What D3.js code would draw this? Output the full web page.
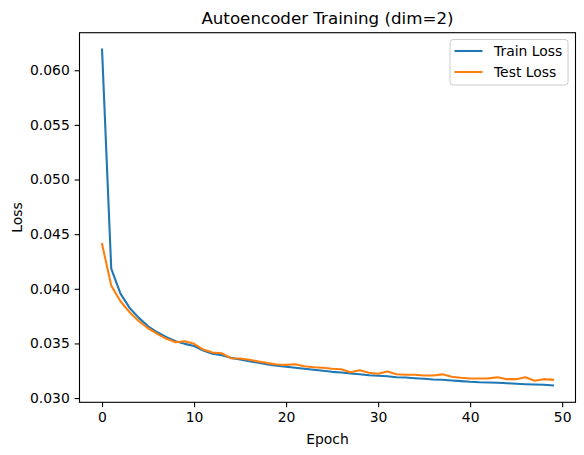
<!DOCTYPE html>
<html>
<head>
<meta charset="utf-8">
<script src="https://cdn.jsdelivr.net/npm/d3@7"></script>
<style>
  html, body { margin: 0; padding: 0; background: #fff; }
  svg { display: block; font-family: "DejaVu Sans", sans-serif; }
</style>
</head>
<body>
<svg id="chart" width="584" height="455"></svg>
<script>
const epochs = d3.range(0, 50);
const trainLoss = [
  0.0619, 0.04185, 0.03956, 0.03825, 0.03734, 0.03657, 0.03602, 0.03557, 0.03520, 0.03496,
  0.03476, 0.03435, 0.03405, 0.03392, 0.03368, 0.03353, 0.03337, 0.03323, 0.03307, 0.03295,
  0.03286, 0.03277, 0.03268, 0.03259, 0.03250, 0.03240, 0.03234, 0.03225, 0.03218, 0.03209,
  0.03204, 0.03200, 0.03191, 0.03188, 0.03182, 0.03176, 0.03170, 0.03167, 0.03161, 0.03155,
  0.03149, 0.03145, 0.03143, 0.03140, 0.03136, 0.03131, 0.03127, 0.03124, 0.03122, 0.03115
];
const testLoss = [
  0.04410, 0.04029, 0.03886, 0.03785, 0.03703, 0.03639, 0.03588, 0.03542, 0.03511, 0.03520,
  0.03496, 0.03444, 0.03417, 0.03410, 0.03365, 0.03362, 0.03350, 0.03335, 0.03320, 0.03307,
  0.03304, 0.03310, 0.03292, 0.03282, 0.03277, 0.03268, 0.03264, 0.03237, 0.03255, 0.03231,
  0.03222, 0.03243, 0.03218, 0.03213, 0.03213, 0.03207, 0.03207, 0.03217, 0.03195, 0.03186,
  0.03179, 0.03179, 0.03180, 0.03191, 0.03173, 0.03173, 0.03191, 0.03158, 0.03173, 0.03167
];
const xTicks = [0, 10, 20, 30, 40, 50];
const yTicks = [0.030, 0.035, 0.040, 0.045, 0.050, 0.055, 0.060];
const seriesNames = ["Train Loss", "Test Loss"];
const seriesColors = ["#1f77b4", "#ff7f0e"];

const svg = d3.select("#chart");
const L = 79.5, R = 575.5, T = 32.7, B = 402.3;

function padExtent(ext) {
  const span = ext[1] - ext[0];
  return [ext[0] - span * 0.05, ext[1] + span * 0.05];
}
const allVals = trainLoss.concat(testLoss);
const x = d3.scaleLinear().domain(padExtent(d3.extent(epochs))).range([L, R]);
const y = d3.scaleLinear().domain(padExtent(d3.extent(allVals))).range([B, T]);

const fs = 13.9;

// Lines
const line = d3.line().x((d, i) => x(epochs[i])).y(d => y(d));
[trainLoss, testLoss].forEach((s, k) => {
  svg.append("path").datum(s)
    .attr("fill", "none")
    .attr("stroke", seriesColors[k])
    .attr("stroke-width", 2.08)
    .attr("stroke-linejoin", "round")
    .attr("stroke-linecap", "square")
    .attr("d", line);
});

// Axes
const xAxis = d3.axisBottom(x).tickValues(xTicks).tickSize(4.86).tickPadding(4.86).tickFormat(d3.format("d"));
const yAxis = d3.axisLeft(y).tickValues(yTicks).tickSize(4.86).tickPadding(4.86).tickFormat(d3.format(".3f"));

const gx = svg.append("g").attr("transform", `translate(0,${B})`).call(xAxis);
const gy = svg.append("g").attr("transform", `translate(${L},0)`).call(yAxis);
[gx, gy].forEach(g => {
  g.select(".domain").remove();
  g.selectAll(".tick line").attr("stroke", "#000").attr("stroke-width", 1.1);
  g.selectAll(".tick text").attr("fill", "#000").style("font-size", fs + "px").style("font-family", "DejaVu Sans");
});

// Frame
svg.append("rect").attr("x", L).attr("y", T).attr("width", R - L).attr("height", B - T)
  .attr("fill", "none").attr("stroke", "#000").attr("stroke-width", 1.1);

// Title and labels
svg.append("text").attr("x", (L + R) / 2).attr("y", 24).attr("text-anchor", "middle")
  .style("font-size", "16.7px").text("Autoencoder Training (dim=2)");
svg.append("text").attr("x", (L + R) / 2).attr("y", 444).attr("text-anchor", "middle")
  .style("font-size", fs + "px").text("Epoch");
svg.append("text").attr("transform", `translate(22,${(T + B) / 2}) rotate(-90)`).attr("text-anchor", "middle")
  .style("font-size", fs + "px").text("Loss");

// Legend
const lg = svg.append("g");
lg.append("rect").attr("x", 450).attr("y", 39.5).attr("width", 118).attr("height", 45.5)
  .attr("rx", 3).attr("fill", "#fff").attr("fill-opacity", 0.8)
  .attr("stroke", "#cccccc").attr("stroke-width", 1);
seriesNames.forEach((n, i) => {
  const yy = 51 + i * 21;
  lg.append("line").attr("x1", 454.5).attr("x2", 482.5).attr("y1", yy).attr("y2", yy)
    .attr("stroke", seriesColors[i]).attr("stroke-width", 2.08);
  lg.append("text").attr("x", 494).attr("y", yy + 5).style("font-size", fs + "px").text(n);
});
</script>
</body>
</html>
